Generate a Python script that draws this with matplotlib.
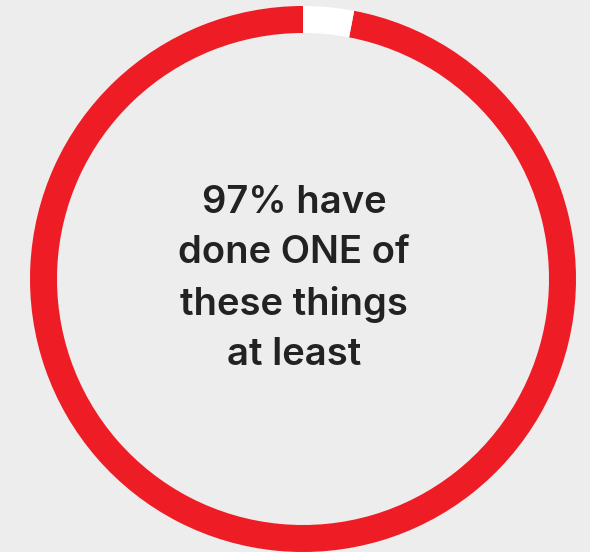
import matplotlib
matplotlib.use('Agg')
import matplotlib.pyplot as plt

plt.rcParams['font.family'] = ['Inter', 'DejaVu Sans']

# 資料
labels = ['done', 'not done']
values = [97, 3]
colors = ['#EE1C25', '#FFFFFF']
center_text = '97% have\ndone ONE of\nthese things\nat least'

BG = '#EDEDED'
W, H = 590, 552
scale = 273.0  # px per unit radius

fig = plt.figure(figsize=(W / 100, H / 100), dpi=100, facecolor=BG)
ax = fig.add_axes([0, 0, 1, 1])
ax.set_facecolor(BG)

# 環形圖：紅色 97%，白色缺口 3%
ax.pie(values, colors=colors, startangle=90, counterclock=True,
       radius=1.0, wedgeprops=dict(width=27 / scale, linewidth=0))

ax.text(-9 / scale, 0.0, center_text, ha='center', va='center',
        fontsize=27.5, fontweight='semibold', color='#222222', linespacing=1.5)

ax.set_xlim(-303 / scale, (W - 303) / scale)
ax.set_ylim(-(H - 279) / scale, 279 / scale)
ax.set_aspect('auto')
ax.axis('off')

fig.savefig('out.png', dpi=100, facecolor=BG)
